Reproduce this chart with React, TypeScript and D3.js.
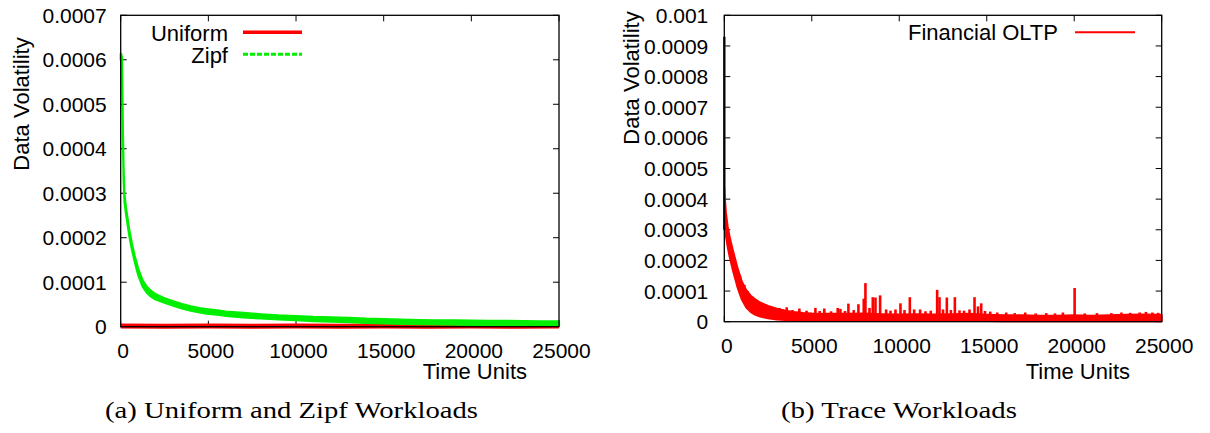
import React from "react";
import * as d3 from "d3";

// ---------- DATA ----------
const xTicks = [0, 5000, 10000, 15000, 20000, 25000];
const leftYTicks = [0, 0.0001, 0.0002, 0.0003, 0.0004, 0.0005, 0.0006, 0.0007];
const rightYTicks = [0, 0.0001, 0.0002, 0.0003, 0.0004, 0.0005, 0.0006, 0.0007, 0.0008, 0.0009, 0.001];
const leftYLabels = ["0", "0.0001", "0.0002", "0.0003", "0.0004", "0.0005", "0.0006", "0.0007"];
const rightYLabels = ["0", "0.0001", "0.0002", "0.0003", "0.0004", "0.0005", "0.0006", "0.0007", "0.0008", "0.0009", "0.001"];
const xLabels = ["0", "5000", "10000", "15000", "20000", "25000"];

// Panel (a): Zipf band (upper / lower envelope of the noisy line)
const zipfTime = [0, 40, 70, 100, 130, 170, 215, 300, 400, 500, 650, 800, 1000, 1250, 1500, 1750, 2000, 2500, 3000, 3500, 4000, 4500, 5000, 5500, 6000, 7000, 8000, 9000, 10000, 11000, 12000, 13000, 14000, 15000, 16000, 17000, 18000, 19000, 20000, 21000, 22000, 23000, 24000, 25000];
const zipfHigh = [614e-6, 612e-6, 605e-6, 520e-6, 430e-6, 348e-6, 298e-6, 268e-6, 241e-6, 215e-6, 185e-6, 159e-6, 130e-6, 104e-6, 89e-6, 80e-6, 73e-6, 64e-6, 57e-6, 51e-6, 46e-6, 42e-6, 39e-6, 36.5e-6, 34e-6, 31e-6, 28e-6, 25.5e-6, 24e-6, 22e-6, 21e-6, 20e-6, 18e-6, 17e-6, 16e-6, 15e-6, 14.5e-6, 14e-6, 13.5e-6, 13e-6, 13e-6, 12.5e-6, 12e-6, 12e-6];
const zipfLow = [600e-6, 596e-6, 585e-6, 500e-6, 412e-6, 330e-6, 282e-6, 254e-6, 228e-6, 202e-6, 172e-6, 146e-6, 116e-6, 90e-6, 76e-6, 67e-6, 61e-6, 54e-6, 47e-6, 41e-6, 36e-6, 32e-6, 29e-6, 27e-6, 24.5e-6, 21e-6, 18.5e-6, 16.5e-6, 14.5e-6, 12.5e-6, 11.5e-6, 10.5e-6, 8.5e-6, 7.5e-6, 6.5e-6, 5.5e-6, 5e-6, 4.5e-6, 4e-6, 3.5e-6, 3.5e-6, 3e-6, 2.5e-6, 2.5e-6];

// Panel (a): Uniform (hugging zero)
const uniformTime = [0, 2500, 5000, 7500, 10000, 12500, 15000, 17500, 20000, 22500, 25000];
const uniformValues = [1.5e-6, 1.2e-6, 1.4e-6, 1.1e-6, 1.3e-6, 1.2e-6, 1.4e-6, 1.1e-6, 1.3e-6, 1.2e-6, 1.4e-6];

// Panel (b): Financial OLTP band
const oltpTime = [0, 20, 40, 100, 200, 300, 400, 500, 750, 1000, 1250, 1500, 1750, 2000, 2500, 3000, 3500, 4000, 4500, 5000, 6000, 7000, 8000, 9000, 10000, 11000, 12000, 13000, 14000, 15000, 16000, 17000, 18000, 19000, 20000, 21000, 22000, 23000, 24000, 25000];
const oltpHigh = [440e-6, 420e-6, 400e-6, 355e-6, 310e-6, 280e-6, 255e-6, 232e-6, 178e-6, 132e-6, 104e-6, 86e-6, 74e-6, 64e-6, 52e-6, 43e-6, 36e-6, 32e-6, 29e-6, 27e-6, 26e-6, 26e-6, 27e-6, 25e-6, 24e-6, 25e-6, 24e-6, 25e-6, 26e-6, 23e-6, 21e-6, 21e-6, 20e-6, 20e-6, 21e-6, 20e-6, 21e-6, 23e-6, 24e-6, 23e-6];
const oltpLow = [380e-6, 340e-6, 305e-6, 275e-6, 240e-6, 212e-6, 188e-6, 165e-6, 112e-6, 72e-6, 46e-6, 32e-6, 23e-6, 17e-6, 11e-6, 7e-6, 5e-6, 4e-6, 3e-6, 2e-6, 2e-6, 2e-6, 2e-6, 2e-6, 2e-6, 2e-6, 2e-6, 2e-6, 2e-6, 2e-6, 1.5e-6, 1.5e-6, 1.5e-6, 1.5e-6, 1.5e-6, 1.5e-6, 1.5e-6, 1.5e-6, 1.5e-6, 1.5e-6];

// Panel (b): individual spikes of the OLTP trace
const spikeTime = [0, 900, 1150, 1335, 1600, 1964, 2150, 2384, 2670, 2900, 3146, 3350, 3566, 3900, 4290, 4700, 5206, 5450, 5716, 6100, 6483, 6636, 6900, 7094, 7400, 7666, 7971, 8066, 8300, 8486, 8640, 8906, 9250, 9500, 9784, 10069, 10300, 10604, 10851, 11194, 11500, 11800, 12166, 12300, 12500, 12720, 12950, 13178, 13444, 13700, 14016, 14302, 14500, 14683, 14900, 15199, 15600, 16114, 16600, 17200, 17800, 18400, 18900, 19355, 20023, 20600, 21300, 22120, 22700, 23200, 23742, 24100, 24466, 24800];
const spikeValues = [930e-6, 150e-6, 120e-6, 100e-6, 80e-6, 66e-6, 58e-6, 52e-6, 50e-6, 44e-6, 45e-6, 40e-6, 47e-6, 38e-6, 43e-6, 36e-6, 45e-6, 35e-6, 43e-6, 34e-6, 45e-6, 42e-6, 35e-6, 59e-6, 38e-6, 57e-6, 75e-6, 126e-6, 45e-6, 80e-6, 79e-6, 86e-6, 40e-6, 36e-6, 40e-6, 60e-6, 38e-6, 80e-6, 40e-6, 40e-6, 34e-6, 36e-6, 104e-6, 80e-6, 40e-6, 79e-6, 38e-6, 80e-6, 37e-6, 36e-6, 40e-6, 80e-6, 50e-6, 60e-6, 35e-6, 33e-6, 30e-6, 30e-6, 28e-6, 30e-6, 27e-6, 28e-6, 27e-6, 30e-6, 110e-6, 27e-6, 28e-6, 28e-6, 30e-6, 29e-6, 30e-6, 32e-6, 30e-6, 29e-6];

// ---------- LAYOUT ----------
const W = 1210;
const H = 433;
const sans = "'Liberation Sans', Arial, Helvetica, sans-serif";
const serif = "'Liberation Serif', 'Times New Roman', serif";

type Panel = {
  left: number; right: number; top: number; bottom: number; yMax: number;
};
const pA: Panel = { left: 120.7, right: 559, top: 15.3, bottom: 326.7, yMax: 0.0007 };
const pB: Panel = { left: 724.3, right: 1161.7, top: 15.3, bottom: 321.7, yMax: 0.001 };

function Frame({ p, yTicks, yLabels, xBase, yLabelGap }: { p: Panel; yTicks: number[]; yLabels: string[]; xBase: number; yLabelGap: number }) {
  const x = d3.scaleLinear().domain([0, 25000]).range([p.left, p.right]);
  const y = d3.scaleLinear().domain([0, p.yMax]).range([p.bottom, p.top]);
  const tl = 6;
  return (
    <g>
      {yTicks.map((v, i) => (
        <g key={"y" + i}>
          <line x1={p.left} x2={p.left + tl} y1={y(v)} y2={y(v)} stroke="#000" strokeWidth={1} />
          <line x1={p.right} x2={p.right - tl} y1={y(v)} y2={y(v)} stroke="#000" strokeWidth={1} />
          <text x={p.left - yLabelGap} y={y(v)} dy="0.36em" textAnchor="end" fontFamily={sans} fontSize={21} fill="#000">{yLabels[i]}</text>
        </g>
      ))}
      {xTicks.map((v, i) => (
        <g key={"x" + i}>
          <line x1={x(v)} x2={x(v)} y1={p.bottom} y2={p.bottom - tl} stroke="#000" strokeWidth={1} />
          <line x1={x(v)} x2={x(v)} y1={p.top} y2={p.top + tl} stroke="#000" strokeWidth={1} />
          <text x={x(v) + 2.5} y={xBase} textAnchor="middle" fontFamily={sans} fontSize={21} fill="#000">{xLabels[i]}</text>
        </g>
      ))}
    </g>
  );
}

function Border({ p }: { p: Panel }) {
  return <rect x={p.left} y={p.top} width={p.right - p.left} height={p.bottom - p.top} fill="none" stroke="#000" strokeWidth={1.3} />;
}

export default function App() {
  const xa = d3.scaleLinear().domain([0, 25000]).range([pA.left, pA.right]);
  const ya = d3.scaleLinear().domain([0, pA.yMax]).range([pA.bottom, pA.top]);
  const xb = d3.scaleLinear().domain([0, 25000]).range([pB.left, pB.right]);
  const yb = d3.scaleLinear().domain([0, pB.yMax]).range([pB.bottom, pB.top]);

  const zipfArea = d3.area<number>()
    .x((_, i) => xa(zipfTime[i]))
    .y0((_, i) => ya(zipfLow[i]))
    .y1((_, i) => ya(zipfHigh[i]))(zipfTime) || "";
  const uniformLine = d3.line<number>()
    .x((_, i) => xa(uniformTime[i]))
    .y((_, i) => ya(uniformValues[i]))(uniformTime) || "";
  const oltpArea = d3.area<number>()
    .x((_, i) => xb(oltpTime[i]))
    .y0((_, i) => yb(oltpLow[i]))
    .y1((_, i) => yb(oltpHigh[i]))(oltpTime) || "";

  // spikes rise from inside the band: base = band's high value at the next sampled time
  const bis = d3.bisector((d: number) => d).left;
  const spikeBase = (t: number) => {
    const j = Math.min(oltpTime.length - 1, bis(oltpTime, t));
    return oltpHigh[j];
  };

  return (
    <svg width={W} height={H} style={{ position: "absolute", left: 0, top: 0, background: "#fff" }}>
      <rect x={0} y={0} width={W} height={H} fill="#fff" />

      {/* Panel (a) */}
      <Frame p={pA} yTicks={leftYTicks} yLabels={leftYLabels} xBase={358} yLabelGap={14} />
      <path d={uniformLine} fill="none" stroke="#ff0000" strokeWidth={5} />
      <path d={zipfArea} fill="#00ee00" stroke="#00ee00" strokeWidth={2.2} strokeLinejoin="round" />
      <Border p={pA} />
      <text transform={`translate(21,104) rotate(-90)`} dy="0.35em" textAnchor="middle" fontFamily={sans} fontSize={22}>Data Volatility</text>
      <text x={527} y={379} textAnchor="end" fontFamily={sans} fontSize={22}>Time Units</text>
      <text x={228} y={40.5} textAnchor="end" fontFamily={sans} fontSize={22}>Uniform</text>
      <line x1={243} x2={302} y1={32.3} y2={32.3} stroke="#ff0000" strokeWidth={3.5} />
      <text x={228} y={62.7} textAnchor="end" fontFamily={sans} fontSize={22}>Zipf</text>
      <line x1={243} x2={302} y1={54.3} y2={54.3} stroke="#00ee00" strokeWidth={3} strokeDasharray="5,2" />

      {/* Panel (b) */}
      <Frame p={pB} yTicks={rightYTicks} yLabels={rightYLabels} xBase={352.5} yLabelGap={16} />
      <path d={oltpArea} fill="#ff0000" stroke="#ff0000" strokeWidth={1.8} strokeLinejoin="round" />
      {spikeTime.map((t, i) => (
        <line key={i} x1={xb(t)} x2={xb(t)} y1={t === 0 ? yb(300e-6) : yb(Math.min(spikeBase(t), spikeValues[i]))} y2={yb(spikeValues[i])} stroke={t === 0 ? "#990000" : "#ff0000"} strokeWidth={2.6} />
      ))}
      <Border p={pB} />
      <text transform={`translate(631,78) rotate(-90)`} dy="0.35em" textAnchor="middle" fontFamily={sans} fontSize={22}>Data Volatility</text>
      <text x={1130} y={379} textAnchor="end" fontFamily={sans} fontSize={22}>Time Units</text>
      <text x={908} y={40} textAnchor="start" fontFamily={sans} fontSize={22}>Financial OLTP</text>
      <line x1={1075} x2={1135} y1={32.3} y2={32.3} stroke="#ff0000" strokeWidth={2} />

      {/* Captions */}
      <text x={105} y={418} fontFamily={serif} fontSize={24} textLength={373} lengthAdjust="spacingAndGlyphs">(a) Uniform and Zipf Workloads</text>
      <text x={781} y={418} fontFamily={serif} fontSize={24} textLength={236} lengthAdjust="spacingAndGlyphs">(b) Trace Workloads</text>
    </svg>
  );
}
